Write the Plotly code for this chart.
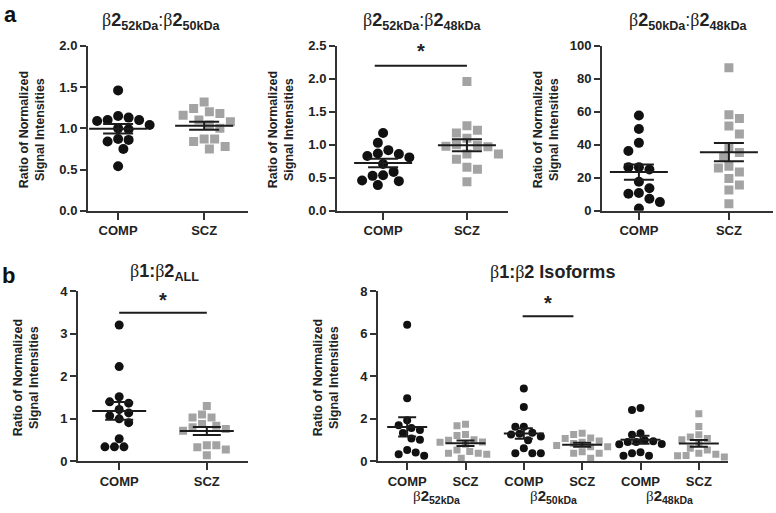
import numpy as np
import plotly.graph_objects as go

W, H = 776, 513

groups = ["COMP", "SCZ"]

# panel a: ratios between beta2 isoforms
a1_comp = [1.46, 1.15, 1.13, 1.10, 1.10, 1.09, 1.04, 1.00, 0.99, 0.87, 0.86, 0.84, 0.75, 0.54]
a1_scz = [1.32, 1.24, 1.20, 1.18, 1.16, 1.10, 1.08, 1.04, 1.00, 0.87, 0.87, 0.84, 0.78, 0.75]
a2_comp = [1.18, 1.03, 0.92, 0.87, 0.86, 0.83, 0.81, 0.71, 0.59, 0.54, 0.53, 0.46, 0.45, 0.39]
a2_scz = [1.96, 1.29, 1.22, 1.18, 1.10, 1.00, 0.99, 0.98, 0.97, 0.86, 0.86, 0.78, 0.66, 0.63, 0.44]
a3_comp = [57.8, 49.6, 41.2, 36.3, 26.5, 26.5, 25.1, 17.6, 13.7, 10.8, 10.4, 7.3, 5.3, 1.4]
a3_scz = [86.7, 58.2, 55.9, 51.4, 46.5, 38.2, 35.3, 32.4, 27.1, 25.9, 23.5, 19.6, 15.7, 12.7, 4.3]

# panel b: beta1 : beta2
b1_comp = [3.21, 2.23, 1.52, 1.40, 1.37, 1.22, 1.14, 1.07, 1.00, 0.91, 0.53, 0.34, 0.34, 0.34]
b1_scz = [1.30, 1.10, 1.03, 1.03, 0.88, 0.84, 0.80, 0.76, 0.72, 0.38, 0.38, 0.33, 0.28, 0.14]
b2_comp52 = [6.43, 2.97, 1.93, 1.70, 1.57, 1.48, 1.33, 1.07, 1.02, 0.53, 0.41, 0.33, 0.26]
b2_scz52 = [1.75, 1.67, 1.26, 1.22, 1.02, 0.99, 0.91, 0.90, 0.80, 0.53, 0.46, 0.38, 0.38, 0.33, 0.15]
b2_comp50 = [3.43, 2.56, 1.63, 1.63, 1.34, 1.30, 1.26, 1.17, 0.99, 0.61, 0.38, 0.38, 0.38]
b2_scz50 = [1.32, 1.26, 1.10, 1.07, 0.96, 0.90, 0.84, 0.75, 0.69, 0.69, 0.45, 0.38, 0.38, 0.15]
b2_comp48 = [2.51, 2.42, 1.32, 1.25, 0.99, 0.95, 0.91, 0.91, 0.82, 0.80, 0.43, 0.38, 0.26, 0.26]
b2_scz48 = [2.24, 1.64, 1.25, 1.14, 1.07, 1.02, 0.85, 0.61, 0.53, 0.38, 0.33, 0.27, 0.26, 0.20]
b2_labels = ["COMP", "SCZ", "COMP", "SCZ", "COMP", "SCZ"]
b2_isoforms = ["β<b>2<sub>52kDa</sub></b>", "β<b>2<sub>50kDa</sub></b>", "β<b>2<sub>48kDa</sub></b>"]

BETA = "<span style='font-family:Liberation Serif;font-weight:normal'>β</span>"

def px(x):
    return x / W

def py(y):
    return 1 - y / H

COMP_COL = "#111111"
SCZ_COL = "#a3a3a3"
LINE_COL = "#1c1c1c"
AX_COL = "#333333"
FONT = "Liberation Sans"

# (data, labels, x px domain, y px domain, x range, y range, dtick, tickformat, marker px, mean hw, cap hw, title)
panels = [
    ([a1_comp, a1_scz], groups, (88, 248), (40, 210), [-0.35, 1.51], [0, 2.0], 0.5, ".1f", 10, 29, 15,
     (161, 15, BETA + "<b>2<sub>52kDa</sub></b>:" + BETA + "<b>2<sub>50kDa</sub></b>")),
    ([a2_comp, a2_scz], groups, (337, 508), (40, 210), [-0.55, 1.49], [0, 2.5], 0.5, ".1f", 10, 29, 15,
     (423, 15, BETA + "<b>2<sub>52kDa</sub></b>:" + BETA + "<b>2<sub>48kDa</sub></b>")),
    ([a3_comp, a3_scz], groups, (602, 773), (40, 210), [-0.41, 1.49], [0, 100], 20, "d", 10, 29, 15,
     (688, 15, BETA + "<b>2<sub>50kDa</sub></b>:" + BETA + "<b>2<sub>48kDa</sub></b>")),
    ([b1_comp, b1_scz], groups, (78, 248), (293, 468), [-0.47, 1.47], [0, 4], 1, "d", 9, 27, 14,
     (164, 274, BETA + "<b>1:</b>" + BETA + "<b>2<sub>ALL</sub></b>")),
    ([b2_comp52, b2_scz52, b2_comp50, b2_scz50, b2_comp48, b2_scz48], b2_labels, (378, 728), (293, 468),
     [-0.5, 5.5], [0, 8], 2, "d", 8, 20, 9,
     (552, 273, BETA + "<b>1:</b>" + BETA + "<b>2 Isoforms</b>")),
]


def swarm(vals, scale, d):
    # beeswarm offsets (px) computed from the values so markers do not overlap
    vals = np.asarray(vals, dtype=float)
    order = np.argsort(-vals, kind="stable")
    placed = []
    offs = np.zeros(len(vals))
    for n, i in enumerate(order):
        yy = vals[i] * scale
        found = None
        for k in range(60):
            if k == 0:
                cands = [0.0]
            else:
                s = 1 if n % 2 == 0 else -1
                cands = [s * k * d / 2, -s * k * d / 2]
            for c in cands:
                if all((c - a) ** 2 + (yy - b) ** 2 >= (0.98 * d) ** 2 for a, b in placed):
                    found = c
                    break
            if found is not None:
                break
        offs[i] = found
        placed.append((found, yy))
    return offs


fig = go.Figure()
layout = dict(
    width=W, height=H, margin=dict(l=0, r=0, t=0, b=0),
    paper_bgcolor="white", plot_bgcolor="white", showlegend=False,
    font=dict(family=FONT, color="#222222"),
)
annotations = []
shapes = []

for p, (data, labels, xd, yd, xr, yr, dt, fmt, msize, mhw, chw, title) in enumerate(panels):
    k = "" if p == 0 else str(p + 1)
    xa, ya = "x" + k, "y" + k
    xpu = (xd[1] - xd[0]) / (xr[1] - xr[0])
    ypu = (yd[1] - yd[0]) / (yr[1] - yr[0])
    for gi, vals in enumerate(data):
        comp = labels[gi] == "COMP"
        offs = swarm(vals, ypu, msize + 0.5)
        fig.add_trace(go.Scatter(
            x=gi + offs / xpu, y=vals, mode="markers", xaxis=xa, yaxis=ya,
            marker=dict(symbol="circle" if comp else "square", size=msize if comp else msize - 1,
                        color=COMP_COL if comp else SCZ_COL, line=dict(width=0)),
        ))
        m = float(np.mean(vals))
        se = float(np.std(vals, ddof=1) / np.sqrt(len(vals)))
        mw, cw = mhw / xpu, chw / xpu
        fig.add_trace(go.Scatter(
            x=[gi - mw, gi + mw, None, gi, gi, None, gi - cw, gi + cw, None, gi - cw, gi + cw],
            y=[m, m, None, m - se, m + se, None, m + se, m + se, None, m - se, m - se],
            mode="lines", xaxis=xa, yaxis=ya, line=dict(color=LINE_COL, width=2),
        ))
    layout["xaxis" + k] = dict(
        domain=[px(xd[0]), px(xd[1])], range=xr, anchor=ya,
        tickvals=list(range(len(labels))), ticktext=labels,
        showline=True, linecolor=AX_COL, linewidth=2, ticks="outside", ticklen=7, tickwidth=2,
        tickcolor=AX_COL, showgrid=False, zeroline=False,
        tickfont=dict(family=FONT, size=13, weight="bold", color="#222222"),
    )
    layout["yaxis" + k] = dict(
        domain=[py(yd[1]), py(yd[0])], range=yr, anchor=xa, dtick=dt, tickformat=fmt,
        showline=True, linecolor=AX_COL, linewidth=2, ticks="outside", ticklen=6, tickwidth=2,
        tickcolor=AX_COL, showgrid=False, zeroline=False,
        tickfont=dict(family=FONT, size=13, weight="bold", color="#222222"),
    )
    # y axis title
    annotations.append(dict(
        x=px(xd[0] - 56 + (4 if p >= 3 else 0)), y=py((yd[0] + yd[1]) / 2 + 2), xref="paper", yref="paper",
        text="<b>Ratio of Normalized<br>Signal Intensities</b>", textangle=-90, showarrow=False,
        font=dict(family=FONT, size=12.5, color="#222222"), xanchor="center", yanchor="middle",
    ))
    # panel title
    annotations.append(dict(
        x=px(title[0]), y=py(title[1]), xref="paper", yref="paper", text=title[2], showarrow=False,
        font=dict(family=FONT, size=18, color="#222222"), xanchor="center", yanchor="middle",
    ))

# isoform group labels under panel b2
for j, lab in enumerate(b2_isoforms):
    annotations.append(dict(
        x=2 * j + 0.5, y=py(504), xref="x5", yref="paper",
        text=lab.replace("β", BETA), showarrow=False,
        font=dict(family=FONT, size=15, color="#222222"), xanchor="center", yanchor="middle",
    ))

# significance bars
for xa, ya, x0, x1, yb, ys in [("x2", "y2", -0.1, 1.0, 2.2, 2.42),
                                ("x4", "y4", 0.0, 1.0, 3.5, 3.8),
                                ("x5", "y5", 1.98, 2.85, 6.83, 7.45)]:
    shapes.append(dict(type="line", xref=xa, yref=ya, x0=x0, x1=x1, y0=yb, y1=yb,
                       line=dict(color=LINE_COL, width=2)))
    annotations.append(dict(x=(x0 + x1) / 2, y=ys, xref=xa, yref=ya, text="<b>*</b>", showarrow=False,
                            font=dict(family=FONT, size=20, color="#222222"), xanchor="center", yanchor="middle"))

# panel letters
annotations.append(dict(x=px(10), y=py(8), xref="paper", yref="paper", text="<b>a</b>", showarrow=False,
                        font=dict(family=FONT, size=22, color="#111111"), xanchor="center", yanchor="middle"))
annotations.append(dict(x=px(8), y=py(277), xref="paper", yref="paper", text="<b>b</b>", showarrow=False,
                        font=dict(family=FONT, size=22, color="#111111"), xanchor="center", yanchor="middle"))

layout["annotations"] = annotations
layout["shapes"] = shapes
fig.update_layout(**layout)

fig.write_html("out.html", config={"displayModeBar": False},
               post_script="document.body.style.margin='0px';")
